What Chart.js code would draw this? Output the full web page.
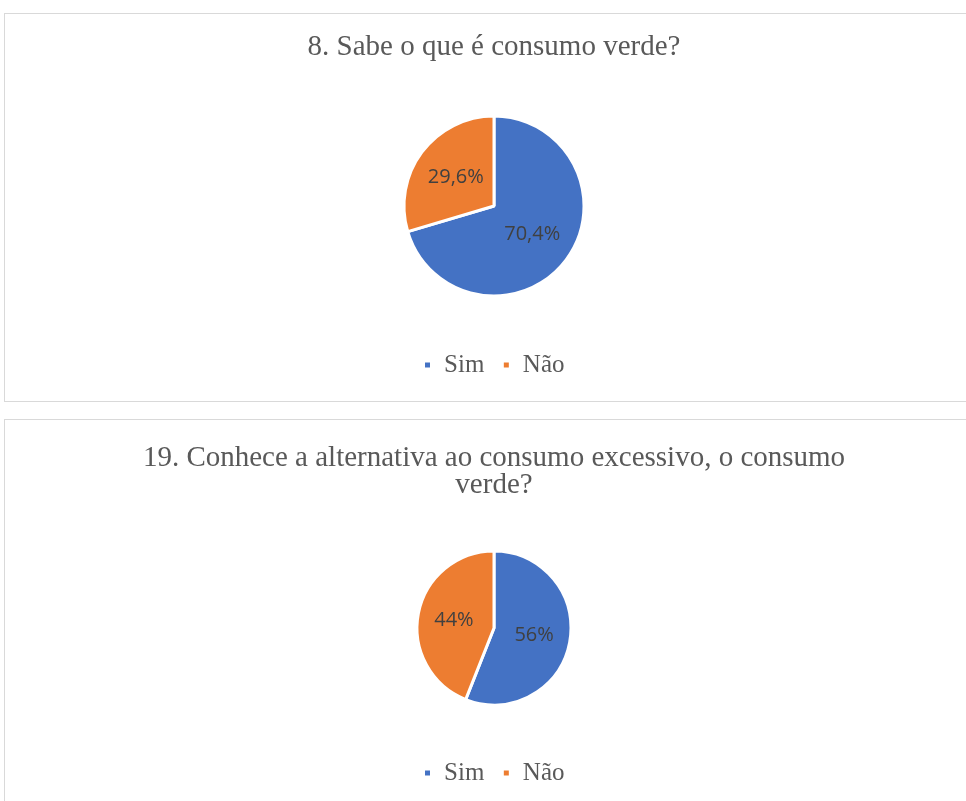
<!DOCTYPE html>
<html>
<head>
<meta charset="utf-8">
<script src="https://cdn.jsdelivr.net/npm/chart.js@4.4.0/dist/chart.umd.min.js"></script>
<style>
  html, body { margin: 0; padding: 0; background: #fff; width: 966px; height: 801px; overflow: hidden; position: relative; }
  .panel { position: absolute; left: 4px; width: 980px; border: 1px solid #d9d9d9; box-sizing: border-box; background: #fff; }
  #p1 { top: 13px; height: 389px; }
  #p2 { top: 419px; height: 400px; }
  .panel canvas { display: block; }
</style>
</head>
<body>
<div class="panel" id="p1"><canvas id="c1"></canvas></div>
<div class="panel" id="p2"><canvas id="c2"></canvas></div>
<script>
// ---- data ----
const categories = ["Sim", "Não"];
const title1 = "8. Sabe o que é consumo verde?";
const values1 = [70.4, 29.6];
const labels1 = ["70,4%", "29,6%"];
const title2 = ["19. Conhece a alternativa ao consumo excessivo, o consumo", "verde?"];
const values2 = [56, 44];
const labels2 = ["56%", "44%"];
const colors = ["#4472C4", "#ED7D31"];

const sliceLabels = {
  id: 'sliceLabels',
  afterDatasetsDraw(chart, args, opts) {
    const ctx = chart.ctx;
    const meta = chart.getDatasetMeta(0);
    ctx.save();
    ctx.font = '20px "Open Sans", sans-serif';
    ctx.fillStyle = '#404040';
    ctx.textAlign = 'center';
    ctx.textBaseline = 'middle';
    meta.data.forEach((arc, i) => {
      const p = arc.getProps(['x','y','startAngle','endAngle','outerRadius'], true);
      const mid = (p.startAngle + p.endAngle) / 2;
      const r = p.outerRadius * opts.frac;
      ctx.fillText(opts.texts[i], p.x + Math.cos(mid) * r, p.y + Math.sin(mid) * r);
    });
    ctx.restore();
  }
};

function makeChart(id, height, titleText, titlePad, titleLine, values, texts, radius, legendPadBottom) {
  const cv = document.getElementById(id);
  cv.width = 978; cv.height = height;
  cv.style.width = '978px'; cv.style.height = height + 'px';
  return new Chart(cv, {
    type: 'pie',
    data: {
      labels: categories,
      datasets: [{
        data: values,
        backgroundColor: colors,
        borderColor: '#ffffff',
        borderWidth: 3,
        radius: radius
      }]
    },
    plugins: [sliceLabels],
    options: {
      responsive: false,
      animation: false,
      layout: { padding: { top: 0, bottom: legendPadBottom, left: 0, right: 0 } },
      plugins: {
        tooltip: { enabled: false },
        sliceLabels: { texts: texts, frac: 0.53 },
        title: {
          display: true,
          text: titleText,
          color: '#595959',
          font: { family: '"Liberation Serif", serif', size: 29, weight: 'normal', lineHeight: titleLine / 29 },
          padding: titlePad
        },
        legend: {
          position: 'bottom',
          labels: {
            color: '#595959',
            font: { family: '"Liberation Serif", serif', size: 25 },
            boxWidth: 8,
            boxHeight: 8,
            padding: 18
          }
        }
      }
    }
  });
}

makeChart('c1', 387, title1, { top: 20, bottom: 17.5 }, 26, values1, labels1, 90, 13.5);
makeChart('c2', 381, title2, { top: 25, bottom: 14.5 }, 27, values2, labels2, 77, 5.5);
</script>
</body>
</html>
